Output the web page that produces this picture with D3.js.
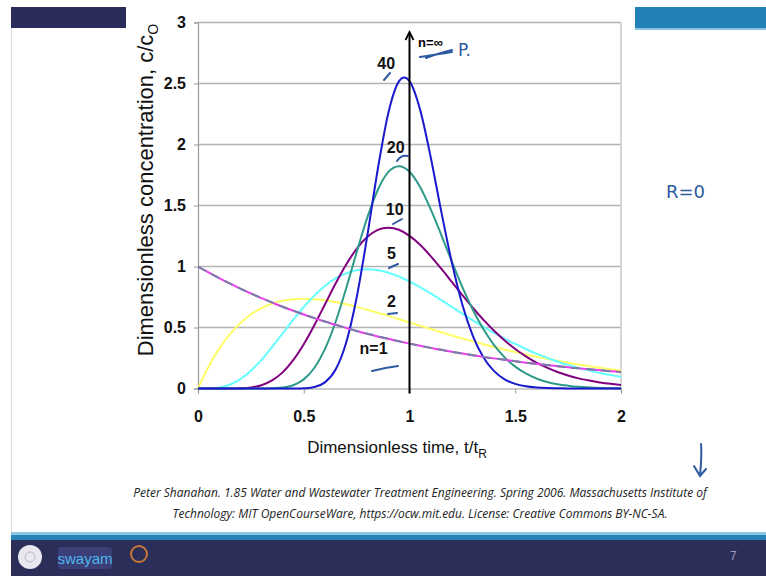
<!DOCTYPE html>
<html lang="en">
<head>
<meta charset="UTF-8">
<title>Tanks in series - D3</title>
<style>
  body { margin: 0; background: #fff; }
  svg { display: block; }
  .tick text { font-family: Arial, "Liberation Sans", sans-serif; font-weight: bold; font-size: 16px; fill: #111; }
</style>
<script src="https://d3js.org/d3.v7.min.js"></script>
</head>
<body>
<div class="graph"></div>
<script>
// dimensionless time t/tR, read every 0.05
const tGrid = [0, 0.05, 0.1, 0.15, 0.2, 0.25, 0.3, 0.35, 0.4, 0.45, 0.5, 0.55, 0.6, 0.65, 0.7, 0.75, 0.8, 0.85, 0.9, 0.95,
  1, 1.05, 1.1, 1.15, 1.2, 1.25, 1.3, 1.35, 1.4, 1.45, 1.5, 1.55, 1.6, 1.65, 1.7, 1.75, 1.8, 1.85, 1.9, 1.95, 2]

// c/c0 for each number of tanks n
const n1 = [1, 0.951, 0.905, 0.861, 0.819, 0.779, 0.741, 0.705, 0.670, 0.638, 0.607, 0.577, 0.549, 0.522, 0.497, 0.472, 0.449, 0.427, 0.407, 0.387,
  0.368, 0.350, 0.333, 0.317, 0.301, 0.287, 0.273, 0.259, 0.247, 0.235, 0.223, 0.212, 0.202, 0.192, 0.183, 0.174, 0.165, 0.157, 0.150, 0.142, 0.135]
const n2 = [0, 0.181, 0.327, 0.444, 0.536, 0.607, 0.659, 0.695, 0.719, 0.732, 0.736, 0.732, 0.723, 0.709, 0.690, 0.669, 0.646, 0.621, 0.595, 0.568,
  0.541, 0.515, 0.488, 0.461, 0.435, 0.410, 0.386, 0.363, 0.340, 0.319, 0.299, 0.279, 0.261, 0.244, 0.227, 0.211, 0.197, 0.183, 0.170, 0.158, 0.147]
const n5 = [0, 0.001, 0.008, 0.031, 0.077, 0.146, 0.235, 0.340, 0.451, 0.563, 0.668, 0.761, 0.840, 0.902, 0.944, 0.969, 0.977, 0.969, 0.949, 0.918,
  0.877, 0.831, 0.779, 0.725, 0.669, 0.614, 0.559, 0.506, 0.456, 0.409, 0.365, 0.324, 0.286, 0.252, 0.221, 0.193, 0.169, 0.147, 0.127, 0.110, 0.095]
const n10 = [0, 0, 0, 0, 0.002, 0.009, 0.027, 0.066, 0.132, 0.232, 0.363, 0.519, 0.689, 0.858, 1.014, 1.145, 1.241, 1.300, 1.318, 1.301,
  1.251, 1.178, 1.085, 0.982, 0.874, 0.765, 0.660, 0.563, 0.474, 0.394, 0.324, 0.264, 0.213, 0.171, 0.135, 0.107, 0.083, 0.065, 0.050, 0.038, 0.029]
const n20 = [0, 0, 0, 0, 0, 0, 0, 0.002, 0.008, 0.027, 0.075, 0.168, 0.323, 0.543, 0.818, 1.116, 1.398, 1.627, 1.775, 1.822,
  1.777, 1.652, 1.470, 1.260, 1.041, 0.831, 0.644, 0.485, 0.356, 0.255, 0.179, 0.123, 0.082, 0.054, 0.035, 0.023, 0.014, 0.009, 0.005, 0.003, 0.002]
const n40 = [0, 0, 0, 0, 0, 0, 0, 0, 0, 0, 0.002, 0.012, 0.050, 0.153, 0.373, 0.744, 1.247, 1.797, 2.259, 2.517,
  2.519, 2.286, 1.898, 1.452, 1.035, 0.687, 0.430, 0.254, 0.142, 0.075, 0.038, 0.019, 0.009, 0.004, 0.002, 0, 0, 0, 0, 0, 0]

const seriesNames = ['n=1', '2', '5', '10', '20', '40']
const seriesColors = ['#f03cf0', '#ffff66', '#66ffff', '#800080', '#2e9b8a', '#1a1acc']
const series = [n1, n2, n5, n10, n20, n40]

const xTicks = [0, 0.5, 1, 1.5, 2]
const yTicks = [0, 0.5, 1, 1.5, 2, 2.5, 3]

// curve labels: [text, t, c]
const curveLabels = [['40', 0.89, 2.62], ['20', 0.935, 1.93], ['10', 0.93, 1.42], ['5', 0.915, 1.06], ['2', 0.915, 0.67], ['n=1', 0.83, 0.28]]

const W = 766, H = 576
const svg = d3.select('.graph').append('svg').attr('width', W).attr('height', H)

// slide decoration
svg.append('rect').attr('x', 11).attr('y', 7).attr('width', 115).attr('height', 21).attr('fill', '#2a2d5c')
svg.append('rect').attr('x', 635).attr('y', 7).attr('width', 131).attr('height', 21).attr('fill', '#2282b8')
svg.append('rect').attr('x', 635).attr('y', 28).attr('width', 131).attr('height', 2).attr('fill', '#8cc4e0')
svg.append('line').attr('x1', 11.5).attr('x2', 11.5).attr('y1', 28).attr('y2', 533).attr('stroke', '#ddd')
svg.append('rect').attr('x', 11).attr('y', 532).attr('width', W - 11).attr('height', 3).attr('fill', '#8cc8e4')
svg.append('rect').attr('x', 11).attr('y', 535).attr('width', W - 11).attr('height', 5).attr('fill', '#2784b8')
svg.append('rect').attr('x', 11).attr('y', 540).attr('width', W - 11).attr('height', 36).attr('fill', '#2b2e58')
// footer logos (rough)
svg.append('circle').attr('cx', 30).attr('cy', 557).attr('r', 12).attr('fill', '#e8e8ee')
svg.append('circle').attr('cx', 30).attr('cy', 557).attr('r', 5).attr('fill', 'none').attr('stroke', '#b8b8c4')
svg.append('rect').attr('x', 58).attr('y', 547).attr('width', 54).attr('height', 22).attr('rx', 3).attr('fill', '#3a3f78')
svg.append('text').attr('x', 85).attr('y', 564).attr('text-anchor', 'middle')
  .attr('font-family', 'Arial, sans-serif').attr('font-size', 15).attr('fill', '#4fb6ec').text('swayam')
svg.append('circle').attr('cx', 139).attr('cy', 554).attr('r', 8).attr('fill', 'none').attr('stroke', '#c9773a').attr('stroke-width', 2)
svg.append('text').attr('x', 730).attr('y', 560).attr('font-family', 'Arial, sans-serif').attr('font-size', 12)
  .attr('fill', '#9a9cb8').text('7')

const x = d3.scaleLinear().domain([0, 2]).range([198, 621])
const y = d3.scaleLinear().domain([0, 3]).range([388.5, 22.5])

// gridlines
svg.append('g').selectAll('line').data(yTicks.slice(1)).join('line')
  .attr('x1', x(0)).attr('x2', x(2)).attr('y1', d => y(d)).attr('y2', d => y(d))
  .attr('stroke', '#b4b4b4').attr('stroke-width', 1.5)
svg.append('line').attr('x1', x(2)).attr('x2', x(2)).attr('y1', y(3)).attr('y2', y(0))
  .attr('stroke', '#c8c8c8').attr('stroke-width', 1.5)

const yAxis = svg.append('g').attr('transform', `translate(${x(0)},0)`)
  .call(d3.axisLeft(y).tickValues(yTicks).tickFormat(d3.format('')).tickSize(4).tickPadding(8))
const xAxis = svg.append('g').attr('transform', `translate(0,${y(0)})`)
  .call(d3.axisBottom(x).tickValues(xTicks).tickFormat(d3.format('')).tickSize(5).tickPadding(17))
yAxis.select('.domain').attr('stroke', '#999').attr('stroke-width', 1.2)
xAxis.select('.domain').attr('stroke', '#999').attr('stroke-width', 1.2)
svg.selectAll('.tick line').attr('stroke', '#999')

// curves
const line = d3.line().x((d, i) => x(tGrid[i])).y(d => y(d)).curve(d3.curveCardinal.tension(0))
const order = [1, 2, 3, 4, 5, 0]
order.forEach(k => {
  svg.append('path').datum(series[k]).attr('d', line).attr('fill', 'none')
    .attr('stroke', seriesColors[k]).attr('stroke-width', 2)
})
// n=1 analytic overlay (dashed)
svg.append('path').datum(n1).attr('d', line).attr('fill', 'none')
  .attr('stroke', '#7480a4').attr('stroke-width', 2).attr('stroke-dasharray', '9,6')

// n = infinity arrow at t = 1
svg.append('line').attr('x1', x(1)).attr('x2', x(1)).attr('y1', y(0) + 5).attr('y2', 33)
  .attr('stroke', '#000').attr('stroke-width', 2)
svg.append('path').attr('d', `M${x(1) - 4},40 L${x(1)},32 L${x(1) + 4},40`).attr('fill', 'none')
  .attr('stroke', '#000').attr('stroke-width', 1.8)

const labFont = '"Liberation Sans Narrow", "Arial Narrow", Arial, sans-serif'
svg.append('text').attr('x', x(1.04)).attr('y', 47).attr('font-family', labFont).attr('font-weight', 'bold')
  .attr('font-size', 13).text('n=∞')
svg.selectAll('.clab').data(curveLabels).join('text').attr('class', 'clab')
  .attr('x', d => x(d[1])).attr('y', d => y(d[2])).attr('text-anchor', 'middle')
  .attr('font-family', labFont).attr('font-weight', 'bold').attr('font-size', 16).attr('fill', '#111')
  .text(d => d[0])

// axis titles
svg.append('text').attr('x', 397).attr('y', 453).attr('text-anchor', 'middle')
  .attr('font-family', 'Arial, "Liberation Sans", sans-serif').attr('font-size', 17).attr('fill', '#111')
  .call(t => {
    t.append('tspan').text('Dimensionless time, t/t')
    t.append('tspan').attr('font-size', 12).attr('dy', 5).text('R')
  })
svg.append('text').attr('transform', 'translate(153,190) rotate(-90)').attr('text-anchor', 'middle')
  .attr('font-family', 'Arial, "Liberation Sans", sans-serif').attr('font-size', 22).attr('fill', '#111')
  .call(t => {
    t.append('tspan').text('Dimensionless concentration, c/c')
    t.append('tspan').attr('font-size', 14).attr('dy', 5).text('O')
  })

// pen annotations
const pen = '#2e5aa0'
const strokes = [
  'M420,57 C432,55 440,54 452,52 M426,58 C436,54 444,52 452,50',
  'M372,371 C380,369 390,367 398,366',
  'M384,80 L390,73', 'M397,161 C400,156 404,155 408,156', 'M393,224 L402,219',
  'M389,268 L398,264', 'M388,314 L397,313',
  'M701,444 C702,455 701,465 700,476 M694,466 L700,476 L706,469'
]
svg.append('g').selectAll('path').data(strokes).join('path').attr('d', d => d)
  .attr('fill', 'none').attr('stroke', pen).attr('stroke-width', 2).attr('stroke-linecap', 'round')
svg.append('text').attr('x', 458).attr('y', 56).attr('font-family', '"DejaVu Sans", sans-serif')
  .attr('font-size', 17).attr('fill', pen).text('P.')
svg.append('text').attr('x', 666).attr('y', 198).attr('font-family', '"DejaVu Sans", sans-serif')
  .attr('font-size', 18).attr('fill', pen).text('R=0')

// source caption
const capFont = '"Liberation Sans Narrow", "Arial Narrow", "Open Sans", sans-serif'
const caption = ['Peter Shanahan. 1.85 Water and Wastewater Treatment Engineering. Spring 2006. Massachusetts Institute of',
  'Technology: MIT OpenCourseWare, https://ocw.mit.edu. License: Creative Commons BY-NC-SA.']
svg.selectAll('.cap').data(caption).join('text').attr('class', 'cap')
  .attr('x', 420).attr('y', (d, i) => 497 + i * 21).attr('text-anchor', 'middle')
  .attr('font-family', capFont).attr('font-style', 'italic').attr('font-size', 12).attr('fill', '#222')
  .text(d => d)
</script>
</body>
</html>
